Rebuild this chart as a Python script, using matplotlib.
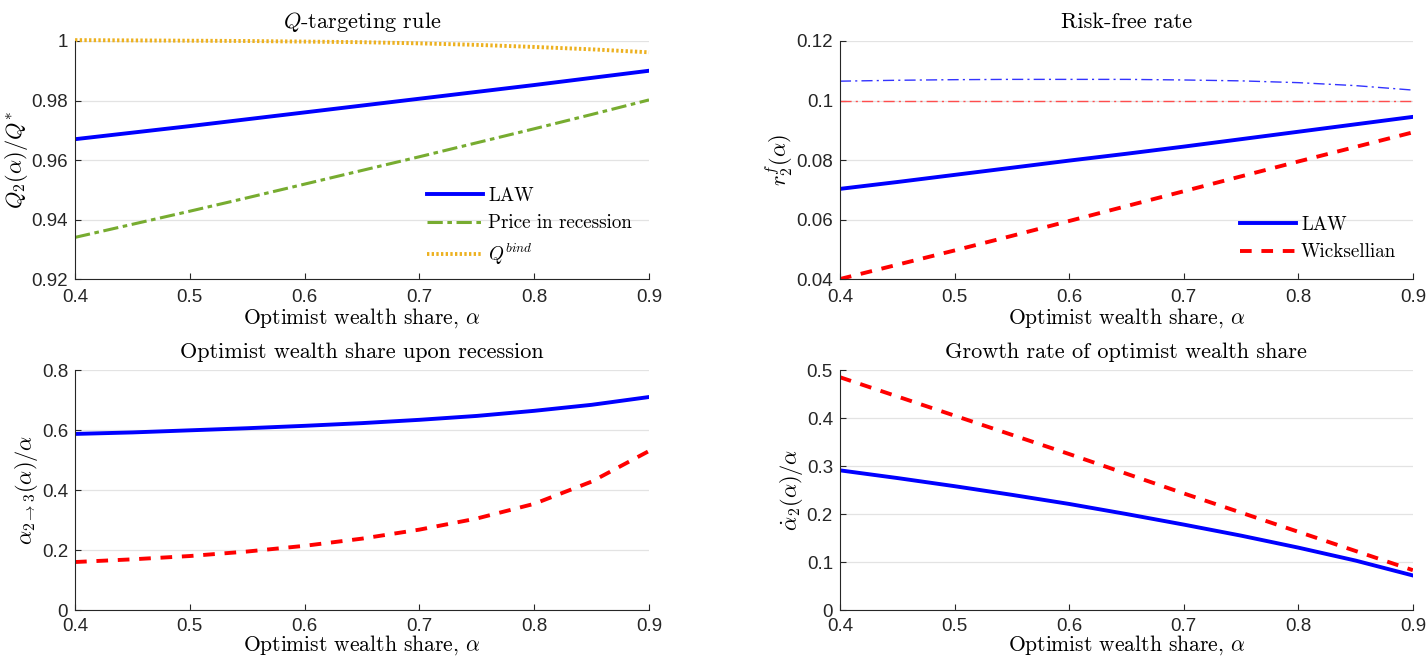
import matplotlib
matplotlib.use('Agg')
import matplotlib.pyplot as plt
from matplotlib.ticker import FuncFormatter

# Data
alpha = [0.40, 0.45, 0.50, 0.55, 0.60, 0.65, 0.70, 0.75, 0.80, 0.85, 0.90]

# Q-targeting rule
q_law = [0.9670, 0.9692, 0.9714, 0.9737, 0.9760, 0.9783, 0.9806, 0.9829, 0.9852, 0.9876, 0.9900]
q_price = [0.9340, 0.9384, 0.9428, 0.9473, 0.9519, 0.9565, 0.9611, 0.9658, 0.9705, 0.9753, 0.9802]
q_bind = [1.0003, 1.0002, 1.0001, 1.0000, 0.9998, 0.9996, 0.9992, 0.9987, 0.9980, 0.9972, 0.9962]

# Risk-free rate
rf_law = [0.0703, 0.0726, 0.0750, 0.0774, 0.0798, 0.0821, 0.0845, 0.0870, 0.0895, 0.0920, 0.0945]
rf_wick = [0.0400, 0.0448, 0.0496, 0.0545, 0.0595, 0.0645, 0.0695, 0.0745, 0.0795, 0.0844, 0.0893]
rf_law_ref = [0.1065, 0.1068, 0.1070, 0.1071, 0.1071, 0.1071, 0.1069, 0.1066, 0.1060, 0.1050, 0.1035]
rf_wick_ref = [0.1] * len(alpha)

# Optimist wealth share upon recession
rec_law = [0.587, 0.592, 0.599, 0.606, 0.614, 0.623, 0.634, 0.647, 0.664, 0.684, 0.710]
rec_wick = [0.160, 0.169, 0.180, 0.195, 0.214, 0.238, 0.268, 0.305, 0.354, 0.428, 0.530]

# Growth rate of optimist wealth share
gr_law = [0.291, 0.275, 0.258, 0.240, 0.221, 0.200, 0.178, 0.155, 0.130, 0.103, 0.072]
gr_wick = [0.485, 0.445, 0.405, 0.365, 0.325, 0.284, 0.243, 0.203, 0.163, 0.123, 0.083]

blue = '#0000ff'
red = '#ff0000'
green = '#77ac30'
orange = '#edb120'

plt.rcParams['mathtext.fontset'] = 'cm'
plt.rcParams['axes.formatter.use_mathtext'] = True
tick_font = ['Liberation Sans', 'DejaVu Sans']
serif = 'cmr10'

fig = plt.figure(figsize=(14.27, 6.57), dpi=100)
ax1 = fig.add_axes([0.0526, 0.5753, 0.4022, 0.3623])
ax2 = fig.add_axes([0.5886, 0.5753, 0.4015, 0.3623])
ax3 = fig.add_axes([0.0526, 0.0715, 0.4022, 0.3653])
ax4 = fig.add_axes([0.5886, 0.0715, 0.4015, 0.3653])

fmt = FuncFormatter(lambda v, p: '%g' % round(v, 6))
dash = (0, (3, 2.5))


def style(ax, ylim, yticks, title, ylabel, bottom=False):
    ax.set_xlim(0.4, 0.9)
    ax.set_ylim(*ylim)
    ax.set_xticks([0.4, 0.5, 0.6, 0.7, 0.8, 0.9])
    ax.set_yticks(yticks)
    ax.xaxis.set_major_formatter(fmt)
    ax.yaxis.set_major_formatter(fmt)
    for s in ['top', 'right']:
        ax.spines[s].set_visible(False)
    for s in ['left', 'bottom']:
        ax.spines[s].set_color('#262626')
        ax.spines[s].set_linewidth(0.8)
    ax.tick_params(direction='in', length=4, width=0.8, color='#262626',
                   labelsize=13.5, labelcolor='#262626')
    ax.tick_params(axis='x', pad=5.5 if bottom else 7)
    ax.tick_params(axis='y', pad=5)
    for lab in ax.get_xticklabels() + ax.get_yticklabels():
        lab.set_family(tick_font)
    ax.grid(axis='y', color='#e3e3e3', linewidth=0.9)
    ax.set_axisbelow(True)
    ax.set_title(title, family=serif, fontsize=16, pad=9)
    ax.set_xlabel(r'Optimist wealth share, $\alpha$', family=serif, fontsize=15.5,
                  labelpad=-1 if bottom else 0)
    ax.set_ylabel(ylabel, fontsize=16, labelpad=1)


leg_kw = dict(loc='upper left', frameon=False, borderpad=0, handlelength=2.95,
              handletextpad=0.25, labelspacing=0.5,
              prop={'family': serif, 'size': 13.7})

# Panel 1
ax1.plot(alpha, q_law, color=blue, lw=2.8, label='LAW')
ax1.plot(alpha, q_price, color=green, lw=2.2, ls=(0, (5, 1.5, 1.5, 1.5)), label='Price in recession')
ax1.plot(alpha, q_bind, color=orange, lw=2.8, ls=(0, (0.6, 0.6)), label=r'$Q^{bind}$', clip_on=False)
style(ax1, (0.92, 1.0), [0.92, 0.94, 0.96, 0.98, 1.0], r'$Q$-targeting rule', r'$Q_2(\alpha)/Q^{*}$')
ax1.legend(bbox_to_anchor=(0.597, 0.426), **leg_kw)

# Panel 2
ax2.plot(alpha, rf_law_ref, color='#3333ff', lw=1.0, ls=(0, (8, 3, 1.5, 3)))
ax2.plot(alpha, rf_wick_ref, color='#ff4d4d', lw=1.0, ls=(0, (8, 3, 1.5, 3)))
ax2.plot(alpha, rf_law, color=blue, lw=2.8, label='LAW')
ax2.plot(alpha, rf_wick, color=red, lw=2.8, ls=dash, label='Wicksellian')
style(ax2, (0.04, 0.12), [0.04, 0.06, 0.08, 0.10, 0.12], 'Risk-free rate', r'$r_2^f(\alpha)$')
ax2.legend(bbox_to_anchor=(0.682, 0.305), **leg_kw)

# Panel 3
ax3.plot(alpha, rec_law, color=blue, lw=2.8)
ax3.plot(alpha, rec_wick, color=red, lw=2.8, ls=dash)
style(ax3, (0, 0.8), [0, 0.2, 0.4, 0.6, 0.8], 'Optimist wealth share upon recession',
      r'$\alpha_{2\rightarrow 3}(\alpha)/\alpha$', bottom=True)

# Panel 4
ax4.plot(alpha, gr_law, color=blue, lw=2.8)
ax4.plot(alpha, gr_wick, color=red, lw=2.8, ls=dash)
style(ax4, (0, 0.5), [0, 0.1, 0.2, 0.3, 0.4, 0.5], 'Growth rate of optimist wealth share',
      r'$\dot{\alpha}_2(\alpha)/\alpha$', bottom=True)

fig.savefig('out.png', dpi=100)
